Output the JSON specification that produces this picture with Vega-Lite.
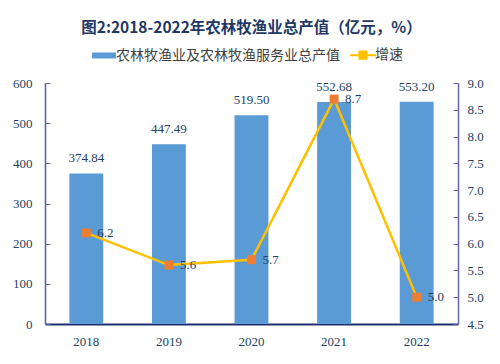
{
  "$schema": "https://vega.github.io/schema/vega-lite/v6.json",
  "width": 413,
  "height": 241,
  "autosize": {"type": "none"},
  "padding": {"left": 45, "top": 83, "right": 42, "bottom": 40},
  "background": "white",
  "title": {
    "text": "图2:2018-2022年农林牧渔业总产值（亿元，%）",
    "font": "Noto Sans CJK SC",
    "fontSize": 15.5,
    "fontWeight": "bold",
    "color": "#1F3864",
    "anchor": "middle",
    "offset": 12
  },
  "data": {
    "values": [
      {"year": "2018", "value": 374.84, "rate": 6.2},
      {"year": "2019", "value": 447.49, "rate": 5.6},
      {"year": "2020", "value": 519.50, "rate": 5.7},
      {"year": "2021", "value": 552.68, "rate": 8.7},
      {"year": "2022", "value": 553.20, "rate": 5.0}
    ]
  },
  "config": {
    "view": {"stroke": null},
    "axis": {
      "labelFont": "Liberation Serif",
      "labelFontSize": 13,
      "labelColor": "#243F60",
      "grid": false,
      "title": null
    }
  },
  "encoding": {
    "x": {
      "field": "year",
      "type": "nominal",
      "scale": {"paddingInner": 0.59, "paddingOuter": 0.295},
      "axis": {
        "labelAngle": 0,
        "ticks": false,
        "labelPadding": 11,
        "domainColor": "#1F2F6F",
        "domainWidth": 2
      }
    }
  },
  "layer": [
    {
      "layer": [
        {
          "mark": {"type": "bar", "color": "#5B9BD5"},
          "encoding": {
            "y": {
              "field": "value",
              "type": "quantitative",
              "scale": {"domain": [0, 600], "nice": false},
              "axis": {
                "values": [0, 100, 200, 300, 400, 500, 600],
                "tickSize": -5,
                "labelPadding": 18,
                "labelOverlap": false,
                "domainColor": "#5B5BA8",
                "tickColor": "#5B5BA8",
                "domainWidth": 1.5
              }
            },
            "color": {
              "datum": "农林牧渔业及农林牧渔服务业总产值",
              "scale": {
                "domain": ["农林牧渔业及农林牧渔服务业总产值", "增速"],
                "range": ["#5B9BD5", "#FFC000"]
              },
              "legend": {
                "orient": "none",
                "legendX": 52,
                "legendY": -35,
                "direction": "horizontal",
                "title": null,
                "labelFont": "Noto Sans CJK SC",
                "labelFontSize": 14,
                "labelColor": "#404040",
                "labelLimit": 400,
                "symbolSize": 576,
                "columnPadding": 5,
                "labelOffset": 5,
                "encode": {
                  "symbols": {
                    "update": {
                      "size": {"value": 576},
                      "shape": {"signal": "datum.value === '增速' ? 'M-1.1,0H1.1M-0.3,-0.3H0.3V0.3H-0.3Z' : 'M-1,-0.25H1V0.25H-1Z'"},
                      "fill": {"signal": "datum.value === '增速' ? '#ED7D31' : '#5B9BD5'"},
                      "stroke": {"signal": "datum.value === '增速' ? '#FFC000' : '#5B9BD5'"},
                      "strokeWidth": {"signal": "datum.value === '增速' ? 2 : 0"},
                      "opacity": {"value": 1},
                      "fillOpacity": {"value": 1}
                    }
                  }
                }
              }
            }
          }
        },
        {
          "mark": {"type": "text", "font": "Liberation Serif", "fontSize": 13, "color": "#243F60", "baseline": "bottom", "dy": -8},
          "encoding": {
            "y": {"field": "value", "type": "quantitative"},
            "text": {"field": "value", "type": "quantitative", "format": ".2f"}
          }
        }
      ]
    },
    {
      "layer": [
        {
          "mark": {"type": "line", "strokeWidth": 2.5},
          "encoding": {
            "y": {
              "field": "rate",
              "type": "quantitative",
              "scale": {"domain": [4.5, 9.0], "nice": false, "zero": false},
              "axis": {
                "orient": "right",
                "tickCount": 9,
                "format": ".1f",
                "tickSize": -5,
                "labelPadding": 14,
                "labelOverlap": false,
                "labelSeparation": 0,
                "domainColor": "#6666B0",
                "tickColor": "#5B5BA8",
                "domainWidth": 1.5
              }
            },
            "color": {"datum": "增速"}
          }
        },
        {
          "mark": {"type": "point", "shape": "square", "filled": true, "size": 80, "color": "#ED7D31", "opacity": 1},
          "encoding": {
            "y": {"field": "rate", "type": "quantitative", "axis": {"orient": "right", "labelOverlap": false}}
          }
        },
        {
          "mark": {"type": "text", "font": "Liberation Serif", "fontSize": 13, "color": "#243F60", "align": "left", "baseline": "middle", "dx": 11},
          "encoding": {
            "y": {"field": "rate", "type": "quantitative", "axis": {"orient": "right", "labelOverlap": false}},
            "text": {"field": "rate", "type": "quantitative", "format": ".1f"}
          }
        }
      ]
    }
  ],
  "resolve": {"scale": {"y": "independent"}}
}
